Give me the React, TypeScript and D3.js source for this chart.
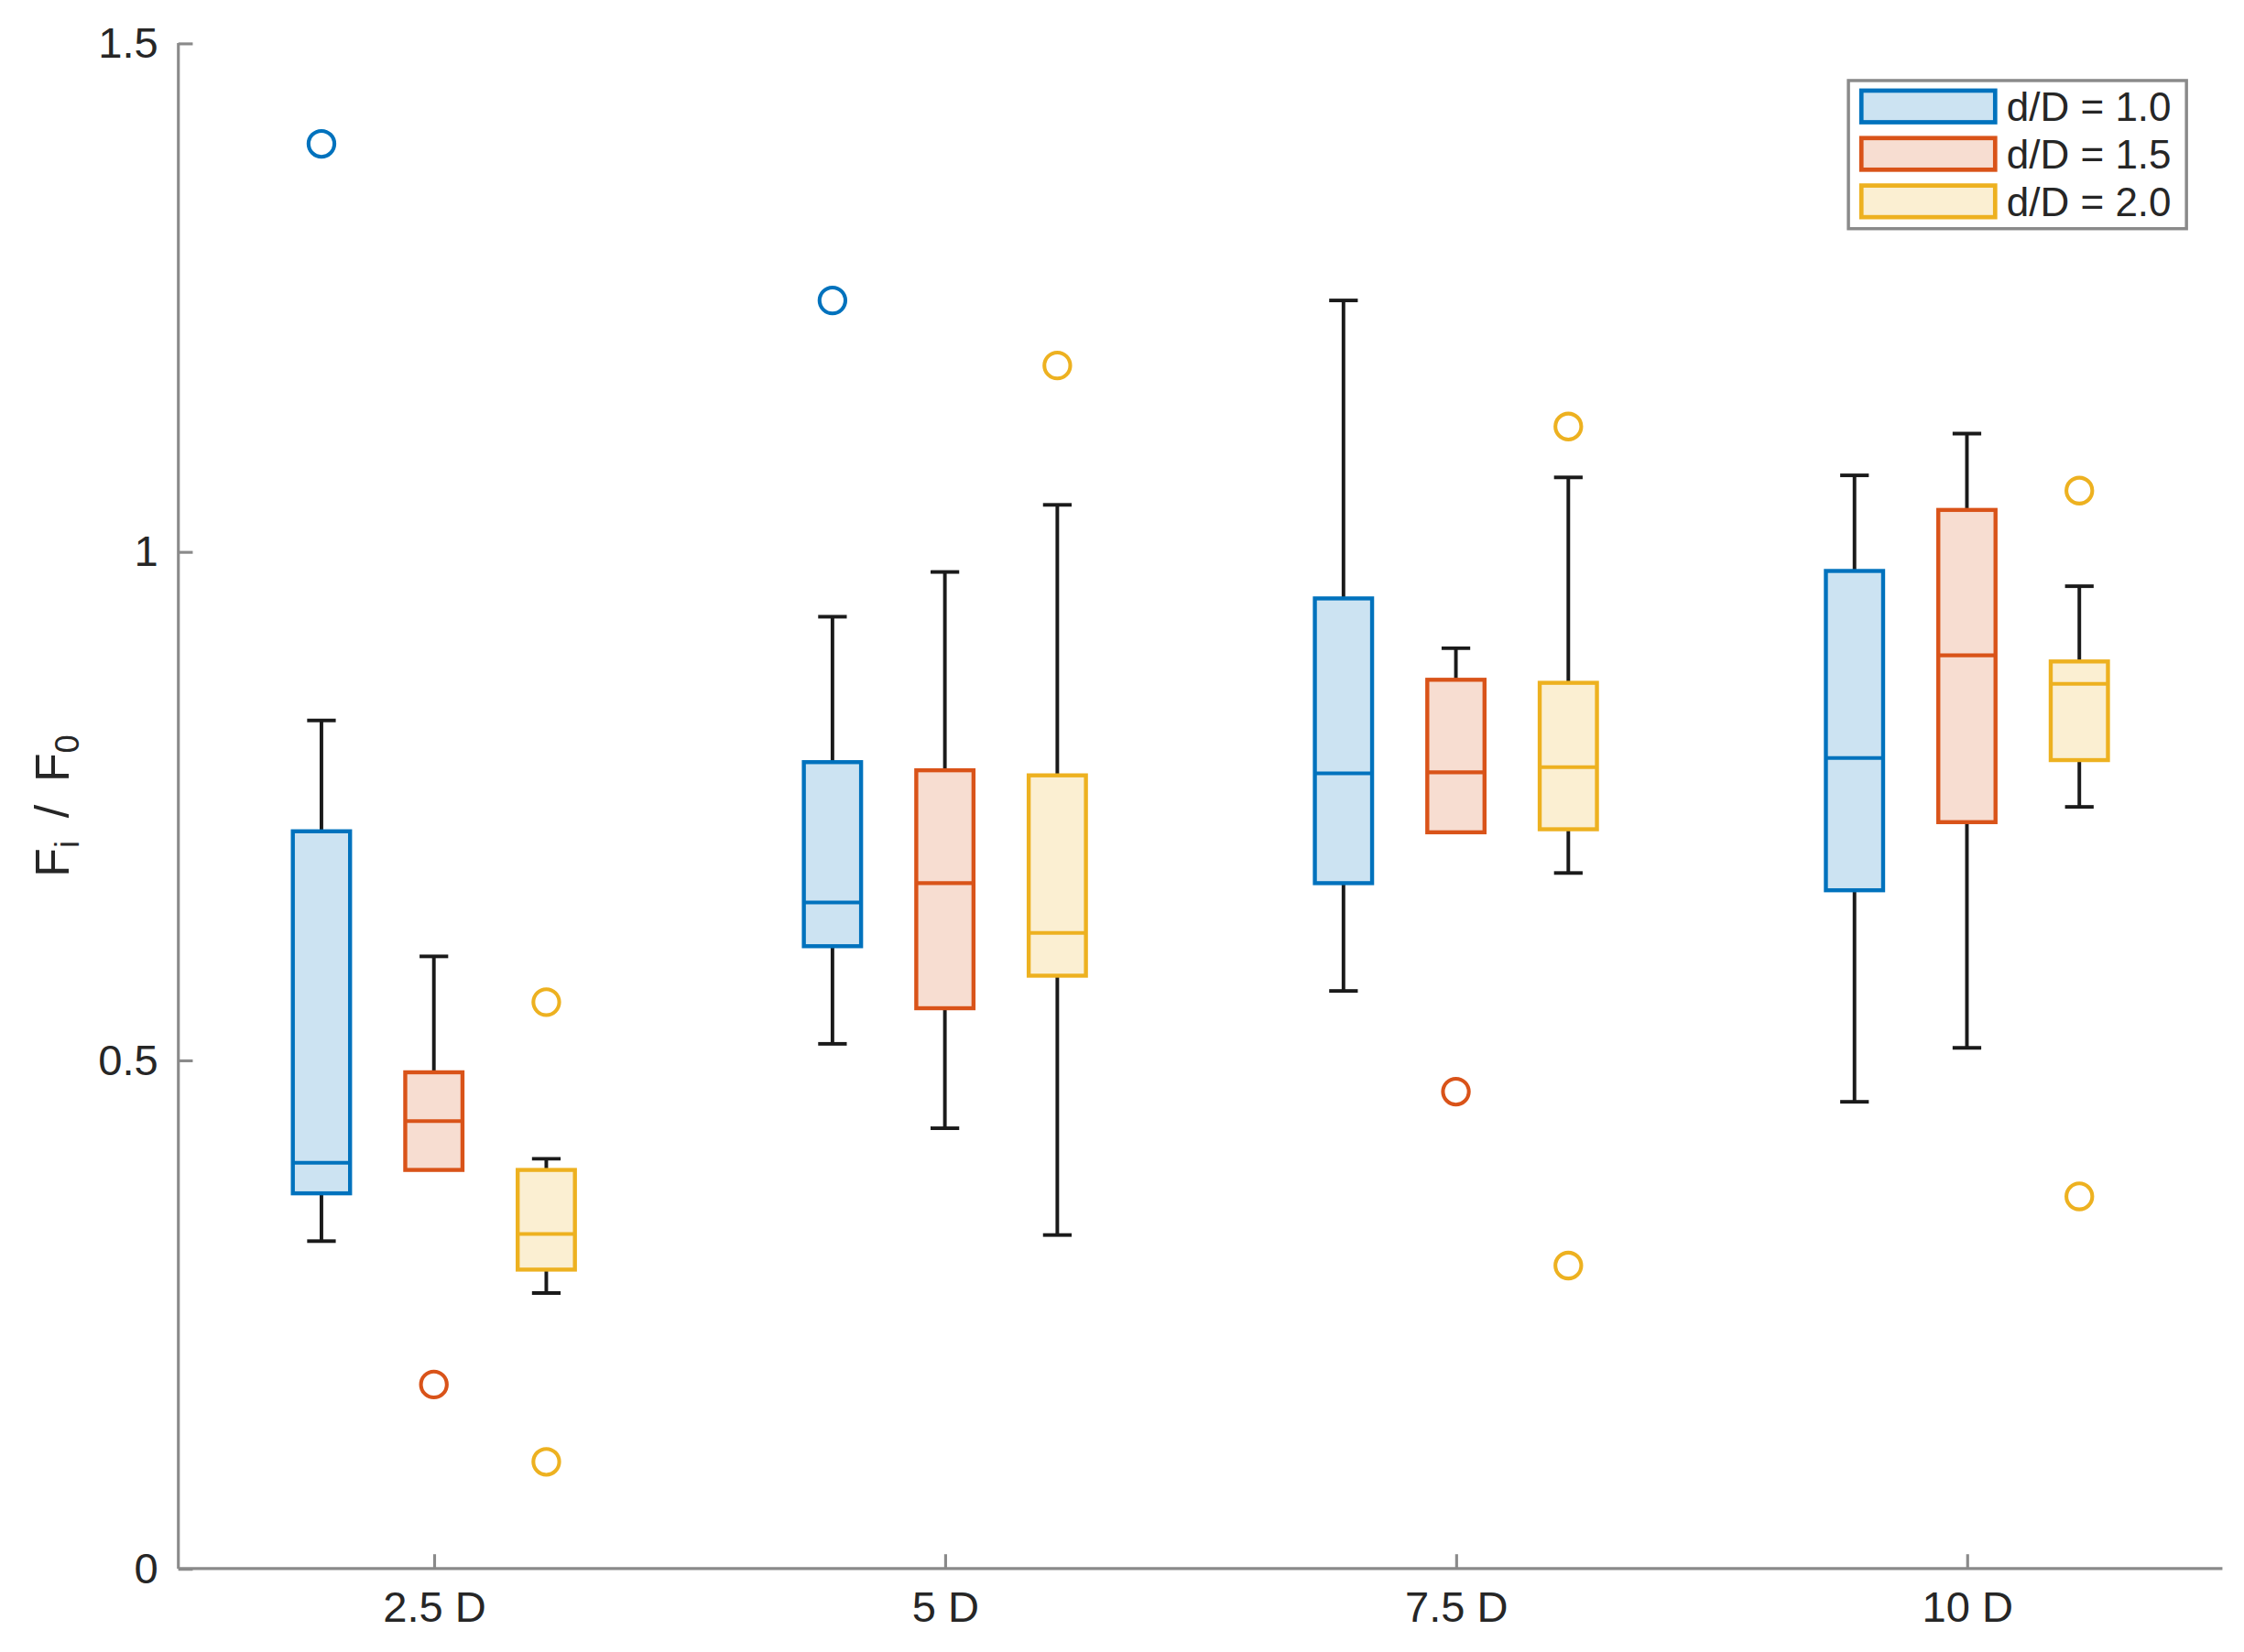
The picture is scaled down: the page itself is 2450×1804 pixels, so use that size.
import * as d3 from 'd3';
import * as React from 'react';

// categories along the x axis
const categories = ['2.5 D', '5 D', '7.5 D', '10 D'];
const seriesNames = ['d/D = 1.0', 'd/D = 1.5', 'd/D = 2.0'];
const seriesColors = ['#0072BD', '#D95319', '#EDB120'];
const yTicks = [0, 0.5, 1, 1.5];
const yTickLabels = ['0', '0.5', '1', '1.5'];

// [lower whisker, q1, median, q3, upper whisker] per category
const stats10 = [
  [0.322, 0.369, 0.399, 0.725, 0.834],
  [0.516, 0.612, 0.655, 0.793, 0.936],
  [0.568, 0.674, 0.782, 0.954, 1.247],
  [0.459, 0.667, 0.797, 0.981, 1.075],
];
const stats15 = [
  [0.392, 0.392, 0.44, 0.488, 0.602],
  [0.433, 0.551, 0.674, 0.785, 0.98],
  [0.724, 0.724, 0.783, 0.874, 0.905],
  [0.512, 0.734, 0.898, 1.041, 1.116],
];
const stats20 = [
  [0.271, 0.294, 0.329, 0.392, 0.403],
  [0.328, 0.583, 0.625, 0.78, 1.046],
  [0.684, 0.727, 0.788, 0.871, 1.073],
  [0.749, 0.795, 0.87, 0.892, 0.966],
];

// outliers per category
const outliers10 = [[1.401], [1.247], [], []];
const outliers15 = [[0.181], [], [0.469], []];
const outliers20 = [[0.557, 0.105], [1.183], [1.123, 0.298], [1.06, 0.366]];

const allStats = [stats10, stats15, stats20];
const allOutliers = [outliers10, outliers15, outliers20];

const VW = 1560;
const VH = (1560 * 1804) / 2450;
const FONT = '"Liberation Sans", Arial, Helvetica, sans-serif';

const BoxChart = () => {
  const ref = React.useRef<SVGSVGElement | null>(null);

  React.useEffect(() => {
    if (!ref.current) return;
    const svg = d3.select(ref.current);
    svg.selectAll('*').remove();

    const margin = { top: 30, right: 15, bottom: 58, left: 124 };
    const x = d3.scaleLinear().domain([0.5, 4.5]).range([margin.left, VW - margin.right]);
    const y = d3.scaleLinear().domain([0, 1.5]).range([VH - margin.bottom, margin.top]);
    const inner = d3.scalePoint().domain(seriesNames).range([-0.22, 0.22]);
    const halfBox = 0.056;
    const halfCap = 0.028;
    const axisColor = '#8a8a8a';
    const textColor = '#262626';
    const whiskerColor = '#1a1a1a';

    // axes
    const yAxis = d3
      .axisLeft(y)
      .tickValues(yTicks)
      .tickSize(-10)
      .tickPadding(14)
      .tickFormat((d, i) => yTickLabels[i]);
    const gy = svg.append('g').attr('transform', `translate(${margin.left},0)`).call(yAxis);
    gy.select('.domain').attr('stroke', axisColor).attr('stroke-width', 2);
    gy.selectAll('.tick line').attr('stroke', axisColor).attr('stroke-width', 2);
    gy.selectAll('.tick text')
      .attr('fill', textColor)
      .style('font-family', FONT)
      .style('font-size', '30px');

    const xAxis = d3
      .axisBottom(x)
      .tickValues([1, 2, 3, 4])
      .tickSize(-10)
      .tickPadding(16)
      .tickFormat((d) => categories[+d - 1]);
    const gx = svg.append('g').attr('transform', `translate(0,${y(0)})`).call(xAxis);
    gx.select('.domain').attr('stroke', axisColor).attr('stroke-width', 2);
    gx.selectAll('.tick line').attr('stroke', axisColor).attr('stroke-width', 2);
    gx.selectAll('.tick text')
      .attr('fill', textColor)
      .style('font-family', FONT)
      .style('font-size', '30px');
    // plain axis lines without end ticks
    gx.select('.domain').attr('d', `M${x(0.5)},0H${x(4.5)}`);
    gy.select('.domain').attr('d', `M0,${y(1.5)}V${y(0)}`);

    // y label
    const yl = svg
      .append('text')
      .attr('transform', `translate(48,${y(0.75)}) rotate(-90)`)
      .attr('text-anchor', 'middle')
      .attr('fill', textColor)
      .style('font-family', FONT)
      .style('font-size', '33px');
    yl.append('tspan').text('F');
    yl.append('tspan').attr('dy', 7).style('font-size', '23px').text('i');
    yl.append('tspan').attr('dy', -7).text('\u2009 / \u2009');
    yl.append('tspan').text('F');
    yl.append('tspan').attr('dy', 7).style('font-size', '23px').text('0');

    // boxes
    allStats.forEach((stats, s) => {
      const color = seriesColors[s];
      const g = svg.append('g');
      stats.forEach((st, c) => {
        const cx = c + 1 + (inner(seriesNames[s]) as number);
        const [lw, q1, med, q3, uw] = st;
        // whiskers
        g.append('line')
          .attr('x1', x(cx)).attr('x2', x(cx))
          .attr('y1', y(q3)).attr('y2', y(uw))
          .attr('stroke', whiskerColor).attr('stroke-width', 2.5);
        g.append('line')
          .attr('x1', x(cx)).attr('x2', x(cx))
          .attr('y1', y(q1)).attr('y2', y(lw))
          .attr('stroke', whiskerColor).attr('stroke-width', 2.5);
        [lw, uw].forEach((v) => {
          if (v === q1 || v === q3) return;
          g.append('line')
            .attr('x1', x(cx - halfCap)).attr('x2', x(cx + halfCap))
            .attr('y1', y(v)).attr('y2', y(v))
            .attr('stroke', whiskerColor).attr('stroke-width', 2.5);
        });
        // box
        g.append('rect')
          .attr('x', x(cx - halfBox))
          .attr('y', y(q3))
          .attr('width', x(cx + halfBox) - x(cx - halfBox))
          .attr('height', y(q1) - y(q3))
          .attr('fill', '#fff');
        g.append('rect')
          .attr('x', x(cx - halfBox))
          .attr('y', y(q3))
          .attr('width', x(cx + halfBox) - x(cx - halfBox))
          .attr('height', y(q1) - y(q3))
          .attr('fill', color)
          .attr('fill-opacity', 0.2)
          .attr('stroke', color)
          .attr('stroke-width', 2.8);
        g.append('line')
          .attr('x1', x(cx - halfBox)).attr('x2', x(cx + halfBox))
          .attr('y1', y(med)).attr('y2', y(med))
          .attr('stroke', color).attr('stroke-width', 2.6);
        // outliers
        allOutliers[s][c].forEach((v) => {
          g.append('circle')
            .attr('cx', x(cx)).attr('cy', y(v)).attr('r', 9)
            .attr('fill', 'none').attr('stroke', color).attr('stroke-width', 2.6);
        });
      });
    });

    // legend
    const lx = 1285;
    const ly = 56;
    const leg = svg.append('g');
    leg.append('rect')
      .attr('x', lx).attr('y', ly).attr('width', 235).attr('height', 103)
      .attr('fill', '#fff').attr('stroke', axisColor).attr('stroke-width', 2.2);
    seriesNames.forEach((name, i) => {
      const cy = ly + 18 + i * 33;
      leg.append('rect')
        .attr('x', lx + 9).attr('y', cy - 11).attr('width', 93).attr('height', 22)
        .attr('fill', seriesColors[i]).attr('fill-opacity', 0.2)
        .attr('stroke', seriesColors[i]).attr('stroke-width', 3);
      leg.append('text')
        .attr('x', lx + 110).attr('y', cy).attr('dy', '0.36em')
        .attr('fill', textColor)
        .style('font-family', FONT)
        .style('font-size', '28px')
        .text(name);
    });
  }, []);

  return (
    <svg
      ref={ref}
      width={2450}
      height={1804}
      viewBox={`0 0 ${VW} ${VH}`}
      style={{ position: 'absolute', left: 0, top: 0, background: '#fff' }}
    />
  );
};

export default function App() {
  return <BoxChart />;
}
